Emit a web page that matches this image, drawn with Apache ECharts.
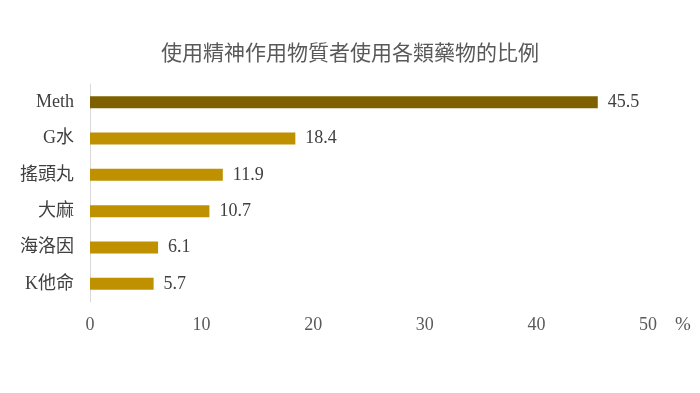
<!DOCTYPE html>
<html><head><meta charset="utf-8">
<script src="https://cdn.jsdelivr.net/npm/echarts@6/dist/echarts.min.js"></script>
<style>html,body{margin:0;padding:0;background:#fff}#c{width:700px;height:393px}</style>
</head><body><div id="c"></div>
<script>
const title = '使用精神作用物質者使用各類藥物的比例';
const categories = ['Meth', 'G水', '搖頭丸', '大麻', '海洛因', 'K他命'];
const values = [45.5, 18.4, 11.9, 10.7, 6.1, 5.7];
const barColors = ['#7F6000', '#BF9000', '#BF9000', '#BF9000', '#BF9000', '#BF9000'];
const xTicks = { min: 0, max: 50, interval: 10, unit: '%' };

const chart = echarts.init(document.getElementById('c'));
chart.setOption({
  animation: false,
  backgroundColor: '#fff',
  title: {
    text: title, left: 'center', top: 37,
    textStyle: { fontFamily: 'Noto Sans CJK TC', fontSize: 21, fontWeight: 'normal', color: '#595959' }
  },
  grid: { left: 90, right: 52, top: 84, height: 218 },
  xAxis: {
    type: 'value', min: xTicks.min, max: xTicks.max, interval: xTicks.interval,
    name: xTicks.unit, nameLocation: 'end', nameGap: 27,
    nameTextStyle: { fontFamily: 'Liberation Serif', fontSize: 19, color: '#595959', verticalAlign: 'top', padding: [14, 0, 0, 0] },
    axisLine: { show: false }, axisTick: { show: false }, splitLine: { show: false },
    axisLabel: { margin: 14, fontFamily: 'Liberation Serif', fontSize: 18, color: '#595959' }
  },
  yAxis: {
    type: 'category', data: categories, inverse: true,
    axisLine: { show: true, lineStyle: { color: '#d9d9d9' } },
    axisTick: { show: false },
    axisLabel: { margin: 16, fontFamily: 'Liberation Serif, Noto Sans CJK TC', fontSize: 18, color: '#404040' }
  },
  series: [{
    type: 'bar', barWidth: 12,
    data: values.map((v, i) => ({ value: v, itemStyle: { color: barColors[i] } })),
    label: { show: true, position: 'right', distance: 10, fontFamily: 'Liberation Serif', fontSize: 18, color: '#404040' }
  }]
});
</script></body></html>
